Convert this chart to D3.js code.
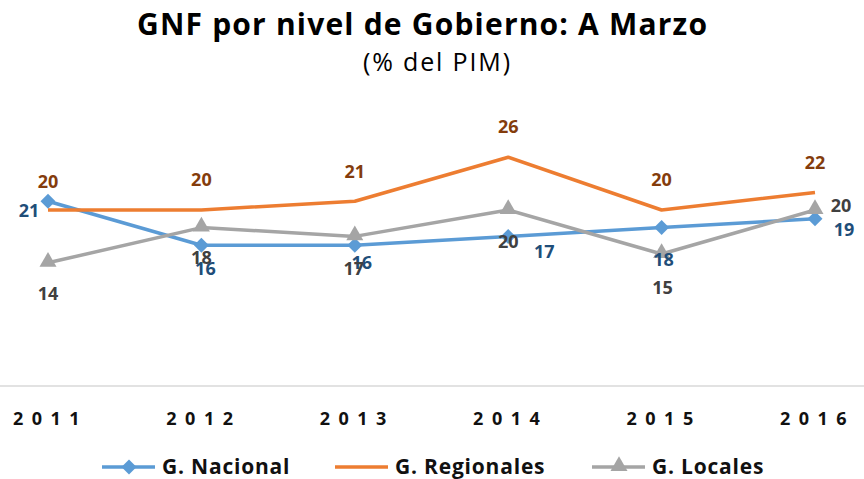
<!DOCTYPE html>
<html><head><meta charset="utf-8">
<script src="https://cdn.jsdelivr.net/npm/d3@7"></script>
<style>body{margin:0;background:#fff;} svg{display:block;}</style>
</head><body>
<svg id="c" width="864" height="479"></svg>
<script>
const years = ["2011","2012","2013","2014","2015","2016"];
const nacional = [21, 16, 16, 17, 18, 19];
const regionales = [20, 20, 21, 26, 20, 22];
const locales = [14, 18, 17, 20, 15, 20];
const seriesNames = ["G. Nacional", "G. Regionales", "G. Locales"];

const FONT = "'Open Sans', 'DejaVu Sans', sans-serif";
const series = [
  {name: seriesNames[0], values: nacional, line: "#5B9BD5", label: "#1F4E79", marker: "diamond",
   place: [[-19,16],[4,30],[7,24],[36,22],[2,38],[29,17]]},
  {name: seriesNames[1], values: regionales, line: "#ED7D31", label: "#843C0C", marker: null,
   place: [[0,-22],[0,-24],[0,-23],[0,-24],[0,-24],[0,-23]]},
  {name: seriesNames[2], values: locales, line: "#A5A5A5", label: "#404040", marker: "triangle",
   place: [[0,37],[0,36],[-1,39],[0,38],[1,40],[26,2]]}
];

const svg = d3.select("#c");
const W = 864;
const x = d3.scalePoint().domain(years).range([48, 815]);
const y = d3.scaleLinear().domain([0, 40]).range([386, 34]);

// Title
svg.append("text").attr("x", 137).attr("y", 35)
  .attr("font-family", FONT).attr("font-weight","bold")
  .attr("font-size", 30).attr("fill","#000")
  .attr("textLength", 570).attr("lengthAdjust","spacing")
  .text("GNF por nivel de Gobierno: A Marzo");
svg.append("text").attr("x", 363).attr("y", 71)
  .attr("font-family", FONT)
  .attr("font-size", 25).attr("fill","#000")
  .attr("textLength", 147).attr("lengthAdjust","spacing")
  .text("(% del PIM)");

// Axis
const xAxis = d3.axisBottom(x).tickSize(0).tickPadding(0);
const gx = svg.append("g").attr("transform", `translate(0,${y(0)})`).call(xAxis);
gx.select(".domain").remove();
svg.append("line").attr("x1",0).attr("x2",W).attr("y1",y(0)).attr("y2",y(0))
  .attr("stroke","#D9D9D9").attr("stroke-width",1.5);
gx.selectAll(".tick text")
  .attr("y", 39).attr("dy", 0).attr("dx", 2)
  .attr("font-family", FONT).attr("font-weight","bold")
  .attr("font-size", 18).attr("letter-spacing", "8.5px").attr("fill","#111");

const line = d3.line().x((d,i)=>x(years[i])).y(d=>y(d));
const diamond = d3.symbol().type(d3.symbolSquare).size(112);
const triangle = d3.symbol().type(d3.symbolTriangle).size(125);

series.forEach(s => {
  svg.append("path").datum(s.values).attr("d", line).attr("fill","none")
    .attr("stroke", s.line).attr("stroke-width", 3.5).attr("stroke-linejoin","round");
  if (s.marker) {
    svg.selectAll(null).data(s.values).enter().append("path")
      .attr("d", s.marker === "diamond" ? diamond : triangle)
      .attr("transform", (d,i)=>`translate(${x(years[i])},${y(d)})` + (s.marker==="diamond"?" rotate(45)":" translate(0,-1)"))
      .attr("fill", s.line);
  }
});
series.forEach(s => {
  svg.selectAll(null).data(s.values).enter().append("text")
    .attr("x", (d,i)=>x(years[i]) + s.place[i][0])
    .attr("y", (d,i)=>y(d) + s.place[i][1])
    .attr("text-anchor","middle")
    .attr("font-family", FONT).attr("font-weight","bold")
    .attr("font-size", 18).attr("fill", s.label).text(d=>d);
});

// Legend
const legX = [102, 335, 592];
series.forEach((s, i) => {
  const g = svg.append("g").attr("transform", `translate(${legX[i]},467)`);
  g.append("line").attr("x1",0).attr("x2",53).attr("y1",0).attr("y2",0)
    .attr("stroke", s.line).attr("stroke-width",3.5);
  if (s.marker) {
    g.append("path").attr("d", s.marker==="diamond"?diamond:triangle)
      .attr("transform", s.marker==="diamond" ? "translate(27,0) rotate(45)" : "translate(27,-1)")
      .attr("fill", s.line);
  }
  g.append("text").attr("x", 60).attr("y", 7)
    .attr("font-family", FONT).attr("font-weight","bold")
    .attr("font-size", 21).attr("letter-spacing","0.8px").attr("fill","#111").text(s.name);
});
</script>
</body></html>
